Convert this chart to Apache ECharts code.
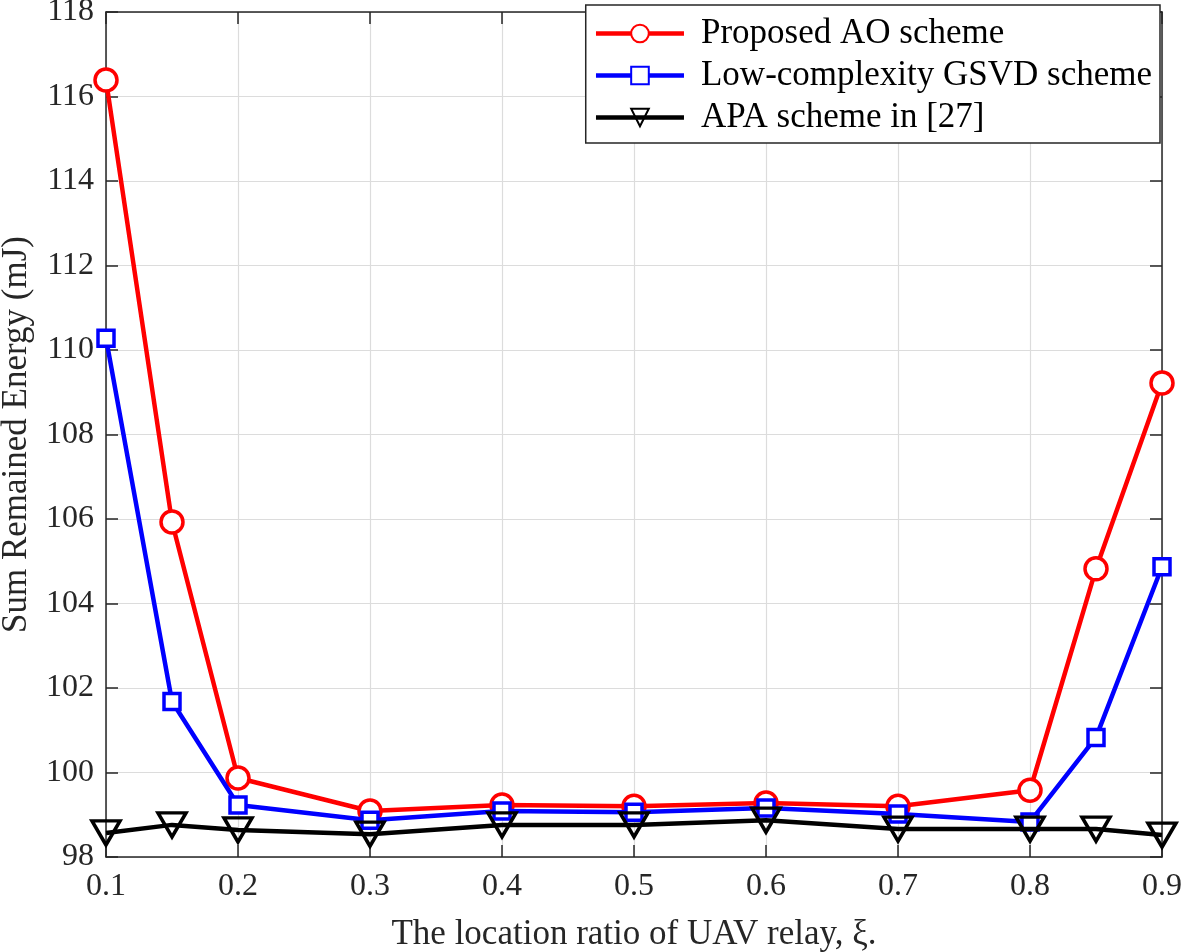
<!DOCTYPE html>
<html><head><meta charset="utf-8">
<script src="https://cdn.jsdelivr.net/npm/echarts@6/dist/echarts.min.js"></script>
<style>html,body{margin:0;padding:0;background:#fff}#c{width:1181px;height:952px}</style>
</head><body><div id="c"></div>
<script>
const xs = [0.1, 0.15, 0.2, 0.3, 0.4, 0.5, 0.6, 0.7, 0.8, 0.85, 0.9];
const proposedAO = [116.39, 105.93, 99.87, 99.09, 99.23, 99.20, 99.28, 99.20, 99.58, 104.82, 109.22];
const gsvd = [110.28, 101.68, 99.23, 98.87, 99.09, 99.06, 99.16, 99.02, 98.83, 100.83, 104.87];
const apa = [98.57, 98.76, 98.64, 98.54, 98.76, 98.76, 98.87, 98.66, 98.66, 98.66, 98.52];
const seriesNames = ['Proposed AO scheme', 'Low-complexity GSVD scheme', 'APA scheme in [27]'];
const xName = 'The location ratio of UAV relay, ξ.';
const yName = 'Sum Remained Energy (mJ)';

const font = 'Liberation Serif, Times New Roman, serif';
const pair = arr => xs.map((x, i) => [x, arr[i]]);
const chart = echarts.init(document.getElementById('c'));
const axisCommon = {
  axisLine: {show: true, onZero: false, lineStyle: {color: '#262626', width: 1.5}},
  axisTick: {show: true, inside: true, length: 12, lineStyle: {color: '#262626', width: 1.5}},
};
chart.setOption({
  animation: false,
  backgroundColor: '#fff',
  grid: {left: 106, right: 19, top: 12, bottom: 95, containLabel: false, outerBoundsMode: 'none'},
  xAxis: [
    Object.assign({type: 'value', min: 0.1, max: 0.9, interval: 0.1, position: 'bottom',
      name: xName, nameLocation: 'middle', nameGap: 60,
      nameTextStyle: {fontFamily: font, fontSize: 35, color: '#262626'},
      axisLabel: {fontFamily: font, fontSize: 32, color: '#262626', margin: 14, formatter: v => v.toFixed(1)},
      splitLine: {show: true, lineStyle: {color: '#dcdcdc', width: 1.2}}}, axisCommon),
    Object.assign({type: 'value', min: 0.1, max: 0.9, interval: 0.1, position: 'top',
      axisLabel: {show: false}, splitLine: {show: false}}, axisCommon)
  ],
  yAxis: [
    Object.assign({type: 'value', min: 98, max: 118, interval: 2, position: 'left',
      name: yName, nameLocation: 'middle', nameGap: 72,
      nameTextStyle: {fontFamily: font, fontSize: 35, color: '#262626'},
      axisLabel: {fontFamily: font, fontSize: 32, color: '#262626', margin: 12},
      splitLine: {show: true, lineStyle: {color: '#dcdcdc', width: 1.2}}}, axisCommon),
    Object.assign({type: 'value', min: 98, max: 118, interval: 2, position: 'right',
      axisLabel: {show: false}, splitLine: {show: false}}, axisCommon)
  ],
  legend: {
    show: true, orient: 'vertical', right: 21, top: 5,
    backgroundColor: '#fff', borderColor: '#262626', borderWidth: 1.5, borderRadius: 0,
    padding: [11, 8, 8, 8], itemGap: 7, itemWidth: 88, itemHeight: 22,
    lineStyle: {width: 4.5},
    textStyle: {fontFamily: font, fontSize: 35, color: '#000', padding: [0, 0, 0, 12]},
    data: seriesNames
  },
  series: [
    {name: seriesNames[0], type: 'line', data: pair(proposedAO), symbol: 'circle', symbolSize: 22,
      itemStyle: {color: '#fff', borderColor: '#ff0000', borderWidth: 3.5},
      lineStyle: {color: '#ff0000', width: 4.5}, z: 3},
    {name: seriesNames[1], type: 'line', data: pair(gsvd), symbol: 'rect', symbolSize: 16,
      itemStyle: {color: '#fff', borderColor: '#0000ff', borderWidth: 3.5},
      lineStyle: {color: '#0000ff', width: 4.5}, z: 4},
    {name: seriesNames[2], type: 'line', data: pair(apa), symbol: 'triangle', symbolSize: [28, 24], symbolRotate: 180,
      itemStyle: {color: 'rgba(255,255,255,0)', borderColor: '#000', borderWidth: 3.5},
      lineStyle: {color: '#000', width: 4.5}, z: 5}
  ]
});
</script></body></html>
